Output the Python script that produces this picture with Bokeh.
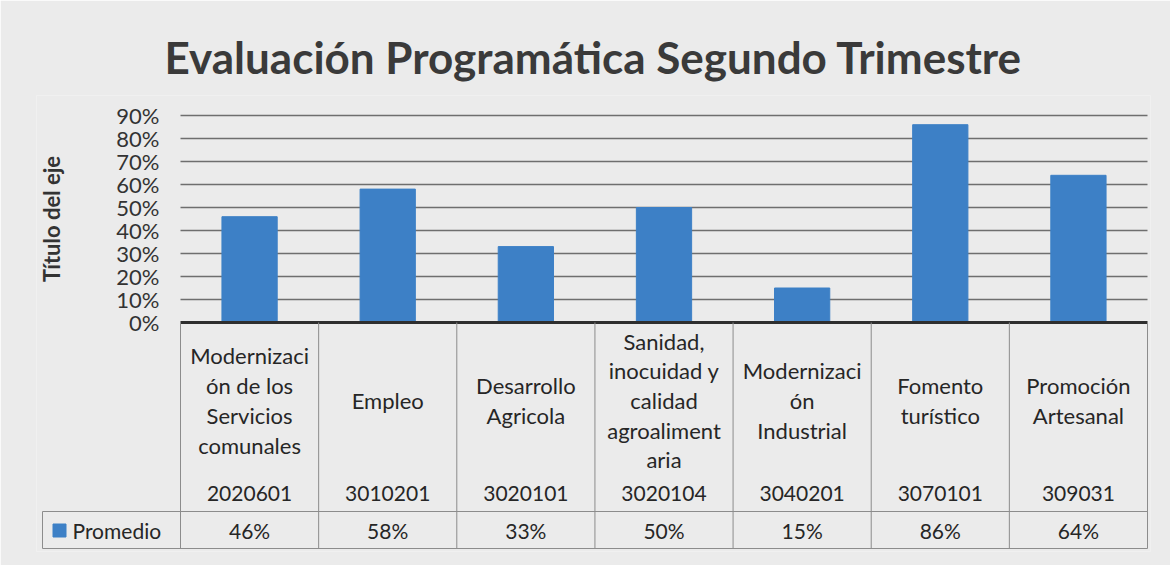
from bokeh.plotting import figure
from bokeh.models import Range1d, FixedTicker, NumeralTickFormatter, LinearAxis
from bokeh.core.properties import value
from bokeh.embed import file_html
from bokeh.resources import INLINE

# ---------------- data ----------------
chart_title = "Evaluación Programática Segundo Trimestre"
y_axis_title = "Título del eje"
series_name = "Promedio"
categories = [
    "Modernizaci\nón de los\nServicios\ncomunales",
    "Empleo",
    "Desarrollo\nAgricola",
    "Sanidad,\ninocuidad y\ncalidad\nagroaliment\naria",
    "Modernizaci\nón\nIndustrial",
    "Fomento\nturístico",
    "Promoción\nArtesanal",
]
codes = ["2020601", "3010201", "3020101", "3020104", "3040201", "3070101", "309031"]
promedio = [0.46, 0.58, 0.33, 0.50, 0.15, 0.86, 0.64]
value_labels = ["46%", "58%", "33%", "50%", "15%", "86%", "64%"]
y_ticks = [0.0, 0.1, 0.2, 0.3, 0.4, 0.5, 0.6, 0.7, 0.8, 0.9]

# ---------------- layout (page pixels) ----------------
PAGE = 0
W, H = 1170, 565
PLOT_L, PLOT_R = 180, 1147       # plot area horizontal extent
ZERO_Y, TOP_Y = 322, 115         # 0% and 90% positions
FR_L, FR_R, FR_T, FR_B = 36, 1150, 95, 551
n = len(codes)
CW = (PLOT_R - PLOT_L) / n
K = (ZERO_Y - TOP_Y) / 0.9


def xd(px):
    return (px - PLOT_L) / CW - 0.5


def yd(py):
    return (ZERO_Y - py) / K


BAR = "#3d80c6"
BG = "#ebebeb"
TXT = "#262626"
LINE = "#8c8c8c"
FONT = "Lato"
FS = "21px"

p = figure(
    width=W, height=H, output_backend="svg", toolbar_location=None,
    x_range=Range1d(xd(FR_L), xd(FR_R)), y_range=Range1d(yd(FR_B), yd(FR_T)),
    x_axis_location=None, y_axis_location=None,
    min_border_left=FR_L - PAGE, min_border_right=PAGE + W - FR_R,
    min_border_top=FR_T - PAGE, min_border_bottom=PAGE + H - FR_B,
    background_fill_color=BG, border_fill_color=BG, outline_line_color=None,
)
p.grid.visible = False

# title
p.title.text = chart_title
p.title.align = "center"
p.title.text_font = FONT
p.title.text_font_size = "44px"
p.title.text_font_style = "bold"
p.title.text_color = "#3a3a3a"
p.title.offset = -3
p.title.standoff = 25

# y axis at the left edge of the plot area
yax = LinearAxis(fixed_location=-0.5, ticker=FixedTicker(ticks=y_ticks),
                 formatter=NumeralTickFormatter(format="0%"), bounds=(0, 0.9))
yax.axis_line_color = None
yax.major_tick_line_color = None
yax.minor_tick_line_color = None
yax.major_label_text_font = FONT
yax.major_label_text_font_size = "22px"
yax.major_label_text_color = "#333333"
yax.major_label_standoff = 15
yax.axis_label = y_axis_title
yax.axis_label_text_font = FONT
yax.axis_label_text_font_size = "22px"
yax.axis_label_text_font_style = "bold"
yax.axis_label_text_color = "#333333"
yax.axis_label_standoff = 48
p.add_layout(yax, "left")

# gridlines
grid_y = y_ticks[1:]
p.segment(x0=[-0.5] * len(grid_y), x1=[n - 0.5] * len(grid_y), y0=grid_y, y1=grid_y,
          line_color="#6e6e6e", line_width=1.5)

# bars
idx = list(range(n))
p.vbar(x=idx, top=promedio, bottom=0, width=0.4, fill_color=BAR, line_color=BAR)

# data table
p.segment(x0=[-0.5], x1=[n - 0.5], y0=[0], y1=[0], line_color="#2e2e2e", line_width=3)
vx = [k - 0.5 for k in range(n + 1)]
p.segment(x0=vx, x1=vx, y0=[0] * len(vx), y1=[yd(548)] * len(vx), line_color=LINE, line_width=1)
p.segment(x0=[xd(42), xd(42)], x1=[n - 0.5, n - 0.5], y0=[yd(511), yd(548)], y1=[yd(511), yd(548)],
          line_color=LINE, line_width=1)
p.segment(x0=[xd(42)], x1=[xd(42)], y0=[yd(511)], y1=[yd(548)], line_color=LINE, line_width=1)

p.text(x=idx, y=[yd(400)] * n, text=categories, text_align="center", text_baseline="middle",
       text_font=value(FONT), text_font_size="22px", text_color=TXT, text_line_height=1.1)
p.text(x=idx, y=[yd(493)] * n, text=codes, text_align="center", text_baseline="middle",
       text_font=value(FONT), text_font_size=FS, text_color=TXT)
p.text(x=idx, y=[yd(530)] * n, text=value_labels, text_align="center", text_baseline="middle",
       text_font=value(FONT), text_font_size=FS, text_color=TXT)

p.scatter(x=[xd(59)], y=[yd(530)], marker="square", size=13, fill_color=BAR, line_color=BAR)
p.text(x=[xd(72)], y=[yd(530)], text=[series_name], text_align="left", text_baseline="middle",
       text_font=value(FONT), text_font_size=FS, text_color=TXT)

open("out.html", "w").write(file_html(p, INLINE))
